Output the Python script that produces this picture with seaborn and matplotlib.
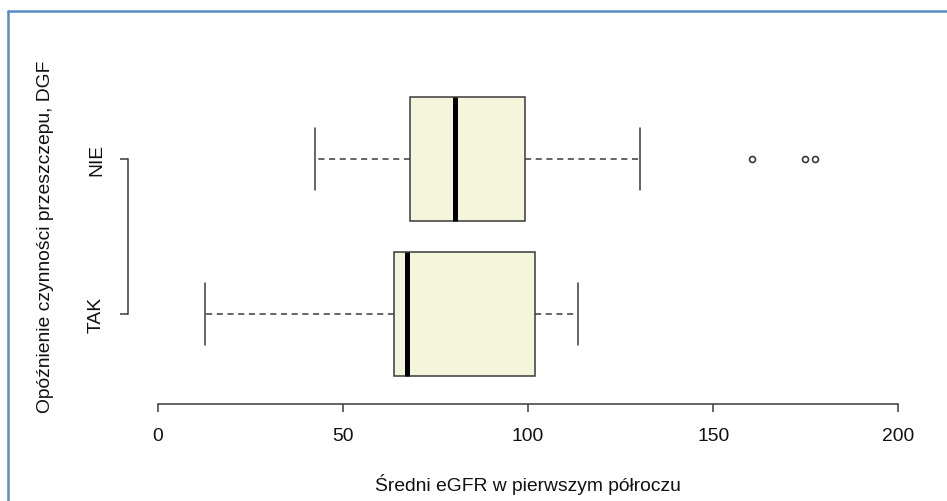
import matplotlib
matplotlib.use("Agg")
import matplotlib.pyplot as plt
from matplotlib.lines import Line2D
import seaborn as sns
import pandas as pd

# Groups (delayed graft function) and box summaries of mean eGFR
groups = ["TAK", "NIE"]
whisker_low = [12.7, 42.4]
q1 = [63.8, 68.1]
median = [67.3, 80.3]
q3 = [101.9, 99.2]
whisker_high = [113.5, 130.3]
outliers = [[], [160.5, 174.9, 177.6]]

x_ticks = [0, 50, 100, 150, 200]
x_label = "Średni eGFR w pierwszym półroczu"
y_label = "Opóźnienie czynności przeszczepu, DGF"

summary = pd.DataFrame({
    "group": groups, "whislo": whisker_low, "q1": q1, "med": median,
    "q3": q3, "whishi": whisker_high, "fliers": outliers,
})

sns.set_theme(style="white")
plt.rcParams["font.family"] = ["Liberation Sans", "DejaVu Sans"]
fs = 13.9

fig = plt.figure(figsize=(9.47, 5.02), dpi=100)
ax = fig.add_axes([128 / 947, 1 - 405 / 502, 800 / 947, 335 / 502])

stats = [
    {"label": r.group, "whislo": r.whislo, "q1": r.q1, "med": r.med,
     "q3": r.q3, "whishi": r.whishi, "fliers": r.fliers}
    for r in summary.itertuples()
]
edge = "#3a3a3a"
ax.bxp(
    stats, positions=[1, 2], widths=0.8, vert=False, patch_artist=True,
    capwidths=0.4,
    boxprops=dict(facecolor="#F5F5DC", edgecolor=edge, linewidth=1.1),
    medianprops=dict(color="black", linewidth=3.6, solid_capstyle="butt"),
    whiskerprops=dict(color=edge, linewidth=1.1, linestyle=(0, (4, 3))),
    capprops=dict(color=edge, linewidth=1.1),
    flierprops=dict(marker="o", markersize=4.3, markerfacecolor="none",
                    markeredgecolor=edge, markeredgewidth=1.2),
)

ax.set_xlim(-8, 208)
ax.set_ylim(0.42, 2.58)
ax.set_xticks(x_ticks)
ax.set_xticklabels([str(t) for t in x_ticks])
ax.set_yticks([1, 2])
ax.set_yticklabels(groups, rotation=90, va="center")

for side in ("top", "right"):
    ax.spines[side].set_visible(False)
for side in ("left", "bottom"):
    ax.spines[side].set_color(edge)
    ax.spines[side].set_linewidth(1.1)
ax.spines["left"].set_bounds(1, 2)
ax.spines["bottom"].set_bounds(0, 200)
ax.tick_params(axis="both", direction="out", length=5.5, width=1.1,
               color=edge, labelsize=fs, labelcolor="#111111", left=True,
               bottom=True)
ax.tick_params(axis="x", pad=11)
ax.tick_params(axis="y", pad=11)
ax.grid(False)
ax.set_facecolor("white")

fig.text(528 / 947, 1 - 485 / 502, x_label, ha="center", va="center",
         fontsize=fs, color="#111111")
fig.text(45 / 947, 1 - 237 / 502, y_label, ha="center", va="center",
         rotation=90, fontsize=fs, color="#111111")

# Frame line along the top and left edge
frame_color = "#5B8AC8"
fig.add_artist(Line2D([8 / 947, 1], [1 - 12 / 502, 1 - 12 / 502],
                      transform=fig.transFigure, color=frame_color, lw=1.8))
fig.add_artist(Line2D([8 / 947, 8 / 947], [0, 1 - 12 / 502],
                      transform=fig.transFigure, color=frame_color, lw=1.8))

fig.savefig("out.png", dpi=100, facecolor="white")
